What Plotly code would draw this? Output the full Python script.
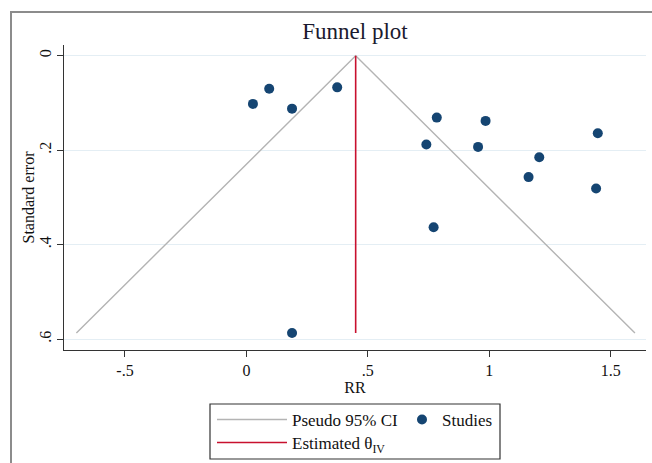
import plotly.graph_objects as go

# Study data
study_rr = [0.027, 0.094, 0.188, 0.374, 0.784, 0.985, 0.741, 0.954, 1.206, 1.447, 1.162, 1.440, 0.771, 0.188]
study_se = [0.102, 0.070, 0.112, 0.067, 0.131, 0.138, 0.188, 0.193, 0.215, 0.164, 0.257, 0.281, 0.363, 0.587]

# Pseudo 95% CI funnel (left end, apex, right end)
ci_rr = [-0.70, 0.45, 1.60]
ci_se = [0.587, 0.0, 0.587]

# Estimated effect (IV)
theta_rr = [0.45, 0.45]
theta_se = [0.0, 0.587]

x_tickvals = [-0.5, 0, 0.5, 1, 1.5]
x_ticktext = ["-.5", "0", ".5", "1", "1.5"]
y_tickvals = [0, 0.2, 0.4, 0.6]
y_ticktext = ["0", ".2", ".4", ".6"]

SERIF = "Liberation Serif, Times New Roman, serif"

fig = go.Figure()
fig.add_trace(go.Scatter(
    x=ci_rr, y=ci_se, mode="lines", name="Pseudo 95% CI",
    line=dict(color="#b4b4b4", width=1.4), legend="legend", showlegend=True))
fig.add_trace(go.Scatter(
    x=theta_rr, y=theta_se, mode="lines", name="Estimated θ<sub>IV</sub>",
    line=dict(color="#c8102e", width=1.6), legend="legend3", showlegend=True))
fig.add_trace(go.Scatter(
    x=study_rr, y=study_se, mode="markers", name="Studies",
    marker=dict(color="#154572", size=10), legend="legend2", showlegend=True))

# plot area: x 64..646, y 45..350
def px(x):
    return (x - 64) / 582.0

def py(y):
    return (350 - y) / 305.0

LEG_FONT = dict(family=SERIF, size=17, color="#111111")

fig.update_layout(
    width=652, height=463,
    showlegend=True,
    margin=dict(l=64, r=6, t=45, b=113, autoexpand=False),
    paper_bgcolor="white", plot_bgcolor="white",
    font=dict(family=SERIF, size=16, color="#111111"),
    title=dict(text="Funnel plot", x=0.5, xref="paper", xanchor="center",
               y=1 - 31 / 463, yref="container", yanchor="middle",
               font=dict(family=SERIF, size=23, color="#1a1a2e")),
    xaxis=dict(range=[-0.751, 1.6455], tickvals=x_tickvals, ticktext=x_ticktext,
               showgrid=False, zeroline=False, showline=True, linecolor="#333333",
               linewidth=1.2, ticks="outside", ticklen=6, tickcolor="#333333",
               tickfont=dict(family=SERIF, size=16, color="#111111"),
               title=dict(text="RR", font=dict(family=SERIF, size=16), standoff=0)),
    yaxis=dict(range=[0.623, -0.0227], tickvals=y_tickvals, ticktext=y_ticktext,
               showgrid=True, gridcolor="#e4eef4", gridwidth=1.2, zeroline=False,
               showline=True, linecolor="#333333", linewidth=1.2,
               ticks="outside", ticklen=6, tickcolor="#333333", tickangle=-90,
               tickfont=dict(family=SERIF, size=16, color="#111111")),
    legend=dict(x=px(212), y=py(402), xanchor="left", yanchor="top",
                orientation="v", bgcolor="rgba(0,0,0,0)", borderwidth=0,
                itemwidth=70, font=LEG_FONT),
    legend3=dict(x=px(212), y=py(425), xanchor="left", yanchor="top",
                 orientation="v", bgcolor="rgba(0,0,0,0)", borderwidth=0,
                 itemwidth=70, font=LEG_FONT),
    legend2=dict(x=px(402), y=py(402), xanchor="left", yanchor="top",
                 orientation="v", bgcolor="rgba(0,0,0,0)", borderwidth=0,
                 font=LEG_FONT),
    annotations=[
        dict(text="Standard error", xref="paper", yref="paper",
             x=px(28), y=0.5, xanchor="center", yanchor="middle",
             textangle=-90, showarrow=False,
             font=dict(family=SERIF, size=16, color="#111111")),
    ],
    shapes=[
        dict(type="rect", xref="paper", yref="paper",
             x0=px(210), x1=px(500), y0=py(459), y1=py(404),
             line=dict(color="#333333", width=1.2), fillcolor="rgba(0,0,0,0)"),
        dict(type="rect", xref="paper", yref="paper",
             x0=px(11), x1=1.2, y0=-0.5, y1=py(12),
             line=dict(color="#8c8c8c", width=2), fillcolor="rgba(0,0,0,0)"),
    ],
)

fig.write_html("out.html")
